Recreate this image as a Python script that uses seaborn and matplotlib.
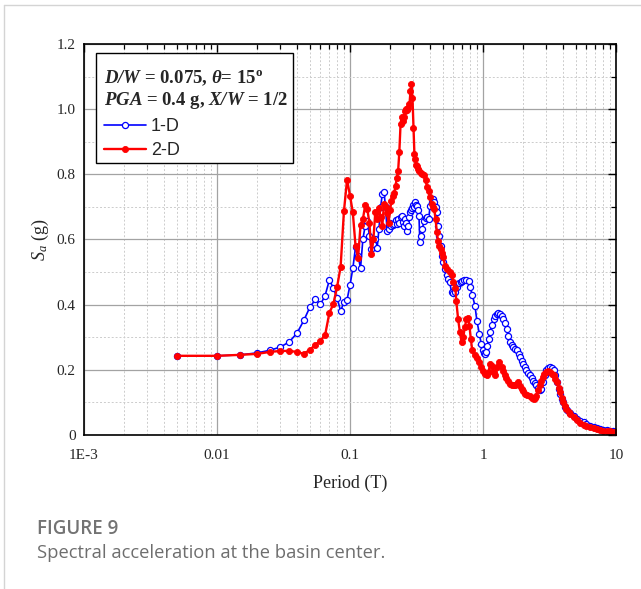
import numpy as np
import pandas as pd
import matplotlib
matplotlib.use("Agg")
import matplotlib.pyplot as plt
import seaborn as sns
from matplotlib.lines import Line2D
from matplotlib.patches import Rectangle
from matplotlib.ticker import FixedLocator, FixedFormatter, MultipleLocator, LogLocator, NullFormatter
from matplotlib.font_manager import FontProperties

# ---------------- data ----------------
period_1d = [0.005, 0.01, 0.015, 0.02, 0.025, 0.03, 0.035, 0.04, 0.045, 0.05,
             0.055, 0.06, 0.065, 0.07, 0.075, 0.08, 0.085, 0.09, 0.095, 0.10,
             0.105, 0.11, 0.115, 0.12, 0.125, 0.13, 0.135, 0.14, 0.145, 0.15,
             0.155, 0.16, 0.165, 0.17, 0.175, 0.18, 0.185, 0.19, 0.195, 0.20,
             0.205, 0.21, 0.215, 0.22, 0.225, 0.23, 0.235, 0.24, 0.245, 0.25,
             0.255, 0.26, 0.265, 0.27, 0.275, 0.28, 0.285, 0.29, 0.295, 0.30,
             0.305, 0.31, 0.315, 0.32, 0.325, 0.33, 0.335, 0.34, 0.35, 0.36,
             0.37, 0.38, 0.39, 0.40, 0.41, 0.42, 0.43, 0.44, 0.45, 0.46,
             0.47, 0.48, 0.49, 0.50, 0.52, 0.54, 0.55, 0.56, 0.58, 0.60,
             0.62, 0.64, 0.66, 0.68, 0.70, 0.72, 0.75, 0.78, 0.80, 0.83,
             0.87, 0.90, 0.94, 0.97, 1.0, 1.02, 1.04, 1.06, 1.08, 1.10,
             1.13, 1.16, 1.2, 1.24, 1.27, 1.30, 1.34, 1.38, 1.42, 1.46,
             1.51, 1.55, 1.6, 1.65, 1.69, 1.74, 1.79, 1.85, 1.9, 1.95,
             2.0, 2.06, 2.12, 2.18, 2.25, 2.32, 2.38, 2.45, 2.52, 2.6,
             2.68, 2.75, 2.83, 2.92, 3.0, 3.1, 3.2, 3.3, 3.4, 3.5,
             3.6, 3.7, 3.8, 3.9, 4.0, 4.15, 4.3, 4.5, 4.8, 5.05,
             5.4, 5.7, 6.0, 6.38, 6.8, 7.2, 7.6, 8.0, 8.5, 9.0,
             9.5, 10.0]
sa_1d = [0.243, 0.243, 0.246, 0.252, 0.260, 0.270, 0.286, 0.313, 0.352, 0.393,
         0.416, 0.401, 0.428, 0.476, 0.451, 0.420, 0.381, 0.407, 0.415, 0.460,
         0.511, 0.576, 0.550, 0.512, 0.601, 0.642, 0.657, 0.611, 0.571, 0.585,
         0.601, 0.573, 0.632, 0.700, 0.740, 0.747, 0.700, 0.627, 0.632, 0.652,
         0.642, 0.645, 0.647, 0.660, 0.647, 0.662, 0.652, 0.668, 0.673, 0.655,
         0.640, 0.662, 0.650, 0.627, 0.640, 0.668, 0.683, 0.690, 0.698, 0.705,
         0.700, 0.714, 0.705, 0.703, 0.690, 0.673, 0.593, 0.610, 0.632, 0.657,
         0.665, 0.668, 0.662, 0.703, 0.715, 0.724, 0.714, 0.700, 0.683, 0.642,
         0.610, 0.580, 0.550, 0.530, 0.509, 0.490, 0.479, 0.470, 0.440, 0.435,
         0.440, 0.455, 0.465, 0.470, 0.473, 0.475, 0.475, 0.473, 0.455, 0.430,
         0.397, 0.350, 0.310, 0.280, 0.262, 0.252, 0.249, 0.254, 0.274, 0.295,
         0.316, 0.337, 0.356, 0.365, 0.371, 0.373, 0.371, 0.365, 0.356, 0.343,
         0.326, 0.305, 0.285, 0.275, 0.270, 0.265, 0.260, 0.250, 0.239, 0.228,
         0.218, 0.208, 0.198, 0.190, 0.183, 0.175, 0.167, 0.160, 0.152, 0.145,
         0.137, 0.142, 0.162, 0.183, 0.198, 0.207, 0.210, 0.207, 0.198, 0.183,
         0.163, 0.142, 0.125, 0.111, 0.100, 0.086, 0.076, 0.068, 0.057, 0.050,
         0.044, 0.040, 0.035, 0.029, 0.025, 0.021, 0.018, 0.016, 0.014, 0.012,
         0.011, 0.010]

period_2d = [0.005, 0.01, 0.015, 0.02, 0.025, 0.03, 0.035, 0.04, 0.045, 0.05,
             0.055, 0.06, 0.065, 0.07, 0.075, 0.08, 0.085, 0.09, 0.095, 0.10,
             0.105, 0.11, 0.115, 0.12, 0.125, 0.13, 0.135, 0.14, 0.145, 0.15,
             0.155, 0.16, 0.165, 0.17, 0.175, 0.18, 0.185, 0.19, 0.195, 0.20,
             0.205, 0.21, 0.215, 0.22, 0.225, 0.23, 0.235, 0.24, 0.245, 0.25,
             0.255, 0.26, 0.265, 0.27, 0.275, 0.28, 0.285, 0.29, 0.295, 0.30,
             0.305, 0.31, 0.315, 0.32, 0.325, 0.33, 0.34, 0.35, 0.36, 0.37,
             0.38, 0.39, 0.40, 0.41, 0.42, 0.43, 0.44, 0.45, 0.46, 0.47,
             0.48, 0.49, 0.50, 0.52, 0.54, 0.56, 0.58, 0.60, 0.62, 0.63,
             0.65, 0.67, 0.69, 0.71, 0.73, 0.75, 0.77, 0.79, 0.81, 0.83,
             0.87, 0.90, 0.94, 0.97, 1.0, 1.04, 1.07, 1.10, 1.13, 1.16,
             1.2, 1.23, 1.27, 1.32, 1.38, 1.42, 1.46, 1.50, 1.55, 1.60,
             1.64, 1.70, 1.74, 1.8, 1.84, 1.9, 1.96, 2.0, 2.07, 2.15,
             2.25, 2.32, 2.4, 2.45, 2.5, 2.6, 2.68, 2.75, 2.83, 2.9,
             3.0, 3.1, 3.17, 3.3, 3.4, 3.5, 3.57, 3.7, 3.78, 3.9,
             4.0, 4.1, 4.24, 4.4, 4.5, 4.8, 5.05, 5.4, 5.7, 6.0,
             6.38, 6.8, 7.2, 7.6, 8.0, 8.5, 9.0, 9.5, 10.0]
sa_2d = [0.243, 0.243, 0.246, 0.249, 0.255, 0.258, 0.258, 0.255, 0.249, 0.262,
         0.277, 0.290, 0.307, 0.375, 0.402, 0.455, 0.516, 0.686, 0.783, 0.735,
         0.683, 0.581, 0.543, 0.644, 0.662, 0.705, 0.693, 0.650, 0.555, 0.601,
         0.685, 0.662, 0.698, 0.670, 0.642, 0.708, 0.700, 0.681, 0.652, 0.690,
         0.718, 0.735, 0.744, 0.764, 0.790, 0.810, 0.870, 0.955, 0.976, 0.963,
         0.975, 0.995, 0.999, 0.996, 1.005, 1.015, 1.055, 1.076, 1.035, 0.943,
         0.862, 0.846, 0.830, 0.826, 0.815, 0.810, 0.805, 0.800, 0.797, 0.782,
         0.760, 0.749, 0.729, 0.708, 0.700, 0.693, 0.662, 0.622, 0.595, 0.580,
         0.570, 0.560, 0.545, 0.520, 0.510, 0.500, 0.490, 0.470, 0.450, 0.410,
         0.356, 0.316, 0.285, 0.300, 0.330, 0.355, 0.360, 0.336, 0.295, 0.260,
         0.244, 0.235, 0.224, 0.210, 0.195, 0.188, 0.183, 0.193, 0.218, 0.213,
         0.193, 0.183, 0.208, 0.224, 0.208, 0.195, 0.183, 0.175, 0.167, 0.158,
         0.152, 0.152, 0.152, 0.158, 0.162, 0.150, 0.142, 0.135, 0.126, 0.123,
         0.121, 0.115, 0.111, 0.113, 0.121, 0.138, 0.152, 0.165, 0.178, 0.186,
         0.193, 0.195, 0.193, 0.187, 0.183, 0.172, 0.162, 0.145, 0.132, 0.115,
         0.101, 0.090, 0.081, 0.070, 0.065, 0.054, 0.045, 0.038, 0.032, 0.028,
         0.025, 0.021, 0.017, 0.015, 0.013, 0.012, 0.011, 0.010, 0.009]

series_labels = ["1-D", "2-D"]
x_ticks = [1e-3, 1e-2, 1e-1, 1, 10]
x_tick_labels = ["1E-3", "0.01", "0.1", "1", "10"]
y_ticks = [0, 0.2, 0.4, 0.6, 0.8, 1.0, 1.2]
y_tick_labels = ["0", "0.2", "0.4", "0.6", "0.8", "1.0", "1.2"]

assert len(period_1d) == len(sa_1d)
assert len(period_2d) == len(sa_2d)

df1 = pd.DataFrame({"Period": period_1d, "Sa": sa_1d})
df2 = pd.DataFrame({"Period": period_2d, "Sa": sa_2d})

# ---------------- style ----------------
sns.set_theme(style="white")
plt.rcParams["font.family"] = ["Liberation Serif", "DejaVu Serif"]
plt.rcParams["mathtext.fontset"] = "custom"
plt.rcParams["mathtext.rm"] = "Liberation Serif"
plt.rcParams["mathtext.it"] = "Liberation Serif:italic"
plt.rcParams["mathtext.bf"] = "Liberation Serif:bold"
plt.rcParams["mathtext.bfit"] = "Liberation Serif:bold:italic"

W, H = 641, 589
fig = plt.figure(figsize=(W / 100, H / 100), dpi=100)
fig.patch.set_facecolor("white")
AX_L, AX_T, AX_W, AX_H = 84, 44, 532, 391
ax = fig.add_axes([AX_L / W, 1 - (AX_T + AX_H) / H, AX_W / W, AX_H / H])

sns.lineplot(data=df1, x="Period", y="Sa", ax=ax, color="#0000ff",
             marker="o", markersize=4.4, markerfacecolor="white",
             markeredgecolor="#0000ff", markeredgewidth=0.9,
             linewidth=1.2, estimator=None, sort=False, label=series_labels[0])
sns.lineplot(data=df2, x="Period", y="Sa", ax=ax, color="#ff0000",
             marker="o", markersize=4.4, markerfacecolor="#ff0000",
             markeredgecolor="#ff0000", markeredgewidth=0.6,
             linewidth=1.7, estimator=None, sort=False, label=series_labels[1])

ax.set_xscale("log")
ax.set_xlim(1e-3, 10)
ax.set_ylim(0, 1.2)
ax.xaxis.set_major_locator(FixedLocator(x_ticks))
ax.xaxis.set_major_formatter(FixedFormatter(x_tick_labels))
ax.xaxis.set_minor_locator(LogLocator(base=10, subs=np.arange(2, 10)))
ax.xaxis.set_minor_formatter(NullFormatter())
ax.yaxis.set_major_locator(FixedLocator(y_ticks))
ax.yaxis.set_major_formatter(FixedFormatter(y_tick_labels))
ax.yaxis.set_minor_locator(MultipleLocator(0.1))

ax.set_axisbelow(True)
ax.grid(which="major", color="#a3a3a3", linewidth=0.9, linestyle="-")
ax.grid(which="minor", color="#cccccc", linewidth=0.7, linestyle=(0, (2, 2)))

ax.tick_params(which="both", direction="in", top=True, right=True,
               color="black", labelsize=11)
ax.tick_params(which="major", length=6, width=1.0)
ax.tick_params(which="minor", length=3.5, width=0.9)
ax.tick_params(axis="x", which="major", pad=10)
ax.tick_params(axis="y", which="major", pad=6)
for sp in ax.spines.values():
    sp.set_color("black")
    sp.set_linewidth(1.2)

ax.set_xlabel("Period (T)", fontsize=13, labelpad=9)
ax.set_ylabel(r"$S_a$ (g)", fontsize=13, labelpad=4)

# legend box (frame drawn as a patch so its size can match the reference)
box_l, box_t, box_r, box_b = 96, 53, 293, 163
ax.add_patch(Rectangle(((box_l - AX_L) / AX_W, (AX_T + AX_H - box_b) / AX_H),
                       (box_r - box_l) / AX_W, (box_b - box_t) / AX_H,
                       transform=ax.transAxes, facecolor="white",
                       edgecolor="black", linewidth=1.0, zorder=4))

handles, labels = ax.get_legend_handles_labels()
title = ("$\\mathbfit{D/W}$ = 0.075, $\\mathbfit{\\theta}$= 15$^{\\mathbf{o}}$\n"
         "$\\mathbfit{PGA}$ = 0.4 g, $\\mathbfit{X/W}$ = 1/2")
leg = ax.legend(handles, labels, title=title, loc="upper left",
                bbox_to_anchor=((104 - AX_L) / AX_W, (AX_T + AX_H - 68) / AX_H),
                borderaxespad=0, borderpad=0, frameon=False,
                prop=FontProperties(family="Liberation Sans", size=13),
                title_fontproperties=FontProperties(family="Liberation Serif",
                                                    weight="bold", size=13.5),
                alignment="left", handlelength=2.3, handletextpad=0.3,
                labelspacing=0.4)
leg.get_title().set_linespacing(1.15)
leg.set_zorder(5)

# caption and page border
fig.add_artist(Line2D([4 / W, 1], [1 - 5 / H, 1 - 5 / H], color="#d4d4d4", lw=1.0))
fig.add_artist(Line2D([4 / W, 4 / W], [0, 1 - 5 / H], color="#d4d4d4", lw=1.0))
fig.text(37 / W, 1 - 529 / H, "FIGURE 9", family="Open Sans", weight="semibold",
         fontsize=13.5, color="#737373", va="center", ha="left")
fig.text(37 / W, 1 - 553 / H, "Spectral acceleration at the basin center.",
         family="Open Sans", fontsize=13.2, color="#6e6e6e", va="center", ha="left")

fig.savefig("out.png", dpi=100, facecolor="white")
